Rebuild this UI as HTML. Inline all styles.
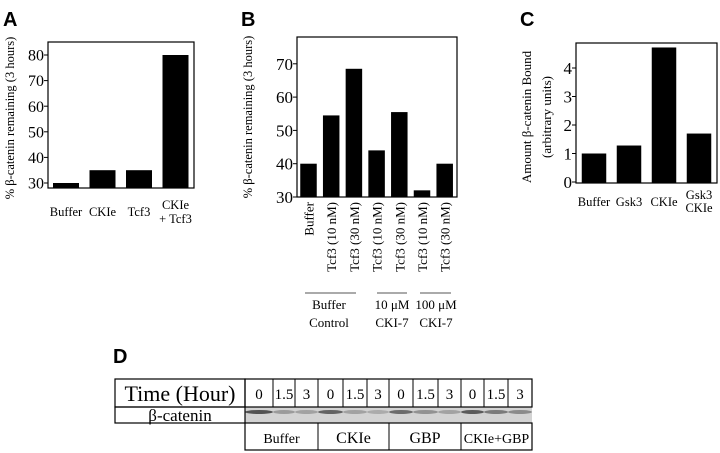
<!DOCTYPE html>
<html><head><meta charset="utf-8"><style>
body{margin:0;background:#fff}
svg{display:block}
text{font-family:"Liberation Serif",serif;fill:#000}
.lt{font-family:"Liberation Sans",sans-serif;font-weight:bold;font-size:20px}
</style></head><body>
<svg id="fig" width="720" height="453" viewBox="0 0 720 453" xmlns="http://www.w3.org/2000/svg">
<text class="lt" x="3" y="26">A</text>
<text class="lt" x="241" y="26">B</text>
<text class="lt" x="520" y="26">C</text>
<text class="lt" x="113" y="363">D</text>
<g id="gA"></g>
<g id="gB"></g>
<g id="gC"></g>
<g id="gD"></g>
</svg>
<script>
const aCategories=[["Buffer"],["CKIe"],["Tcf3"],["CKIe","+ Tcf3"]];
const aValues=[30,35,35,80];
const aTicks=[30,40,50,60,70,80];
const bCategories=["Buffer","Tcf3 (10 nM)","Tcf3 (30 nM)","Tcf3 (10 nM)","Tcf3 (30 nM)","Tcf3 (10 nM)","Tcf3 (30 nM)"];
const bValues=[40,54.5,68.5,44,55.5,32,40];
const bTicks=[30,40,50,60,70];
const cCategories=[["Buffer"],["Gsk3"],["CKIe"],["Gsk3","CKIe"]];
const cValues=[1.0,1.28,4.72,1.7];
const cTicks=[0,1,2,3,4];
const dTimes=["0","1.5","3","0","1.5","3","0","1.5","3","0","1.5","3"];
const dGroups=["Buffer","CKIe","GBP","CKIe+GBP"];

const NS="http://www.w3.org/2000/svg";
function mk(parent,tag,attrs,txt){const e=document.createElementNS(NS,tag);for(const k in attrs)e.setAttribute(k,attrs[k]);if(txt!==undefined)e.textContent=txt;parent.appendChild(e);return e;}

function frame(g,x0,x1,y0,y1,name){
  const r=mk(g,'rect',{x:x0,y:y0,width:x1-x0,height:y1-y0,fill:'none',stroke:'#000','stroke-width':1.2});
  
  
}
function yAxis(g,x0,ys,ticks,fs,name){
  ticks.forEach(t=>{
    const l=mk(g,'line',{x1:x0-4,x2:x0,y1:ys(t),y2:ys(t),stroke:'#000'});
    
    
    const tx=mk(g,'text',{x:x0-4,y:ys(t)+fs*0.35,'text-anchor':'end','font-size':fs},String(t));
    
    
  });
}
function bars(g,xs,bw,ys,base,vals,name){
  vals.forEach((v,i)=>{
    const r=mk(g,'rect',{x:xs(i)-bw/2,y:ys(v),width:bw,height:Math.max(0,base-ys(v)),fill:'#000'});
    
    
  });
}
function ytitle(g,x,y,lines,fs,gap,name){
  lines.forEach((s,i)=>{
    const t=mk(g,'text',{x:0,y:0,'text-anchor':'middle','font-size':fs,transform:`translate(${x+i*gap},${y}) rotate(-90)`},s);
    
    
  });
}

// Panel A
(function(){
  const g=document.getElementById('gA');
  const x0=48,x1=194,y0=42,y1=188;
  const ys=v=>183-(v-30)*2.56;
  const xs=i=>66+i*36.5;
  bars(g,xs,26,ys,y1,aValues,'bar-a');
  frame(g,x0,x1,y0,y1,'panel-a-plot-frame');
  yAxis(g,x0,ys,aTicks,16,'a-y-axis');
  aCategories.forEach((c,i)=>{c.forEach((s,j)=>{
    const t=mk(g,'text',{x:xs(i),y:(c.length>1?209:216)+j*14,'text-anchor':'middle','font-size':12.5},s);
    
    
  });});
  ytitle(g,14,118,["% β-catenin remaining (3 hours)"],12.5,0,'a-y-axis-title');
})();

// Panel B
(function(){
  const g=document.getElementById('gB');
  const x0=297,x1=457,y0=37,y1=197;
  const ys=v=>197-(v-30)*3.33;
  const xs=i=>308.5+i*22.7;
  bars(g,xs,16.5,ys,y1,bValues,'bar-b');
  frame(g,x0,x1,y0,y1,'panel-b-plot-frame');
  yAxis(g,x0,ys,bTicks,17,'b-y-axis');
  bCategories.forEach((s,i)=>{
    const t=mk(g,'text',{x:0,y:0,'text-anchor':'end','font-size':13,transform:`translate(${xs(i)+5},${202}) rotate(-90)`},s);
    
    
  });
  [[305,356],[377,407],[420,451]].forEach(a=>{
    const l=mk(g,'line',{x1:a[0],x2:a[1],y1:293,y2:293,stroke:'#555'});
    
    
  });
  [[329,"Buffer","Control"],[392,"10 μM","CKI-7"],[436,"100 μM","CKI-7"]].forEach(a=>{
    [a[1],a[2]].forEach((s,j)=>{
      const t=mk(g,'text',{x:a[0],y:309+j*18,'text-anchor':'middle','font-size':13},s);
      
      
    });
  });
  ytitle(g,252,117,["% β-catenin remaining (3 hours)"],12.5,0,'b-y-axis-title');
})();

// Panel C
(function(){
  const g=document.getElementById('gC');
  const x0=576,x1=717,y0=43,y1=183;
  const ys=v=>182-v*28.5;
  const xs=i=>594+i*35;
  bars(g,xs,24.5,ys,y1,cValues,'bar-c');
  frame(g,x0,x1,y0,y1,'panel-c-plot-frame');
  yAxis(g,x0,ys,cTicks,17,'c-y-axis');
  cCategories.forEach((c,i)=>{c.forEach((s,j)=>{
    const t=mk(g,'text',{x:xs(i),y:(c.length>1?199:206)+j*13,'text-anchor':'middle','font-size':12.5},s);
    
    
  });});
  ytitle(g,531,117,["Amount β-catenin Bound","(arbitrary units)"],13,20,'c-y-axis-title');
})();

// Panel D
(function(){
  const g=document.getElementById('gD');
  const L=115,X=245,R=532,T=379,M=407,B2=423,B3=450;
  const cols=[245,273,295,318,343,367,389,413,438,461,484,508,532];
  const strip=mk(g,'rect',{x:X,y:M,width:R-X,height:B2-M,fill:'#d3d3d3'});
  
  
  const inten=[0.8,0.35,0.3,0.7,0.3,0.25,0.65,0.4,0.3,0.75,0.55,0.45];
  for(let i=0;i<12;i++){
    const e=mk(g,'ellipse',{cx:(cols[i]+cols[i+1])/2,cy:M+5,rx:(cols[i+1]-cols[i])/2,ry:2,fill:'#333','fill-opacity':inten[i]});
    
    
  }
  const st={fill:'none',stroke:'#000','stroke-width':1.2};
  const boxes=[[L,T,X-L,M-T],[L,M,X-L,B2-M],[X,T,R-X,M-T],[X,B2,R-X,B3-B2]];
  boxes.forEach(b=>{const r=mk(g,'rect',Object.assign({x:b[0],y:b[1],width:b[2],height:b[3]},st));
    
    });
  for(let i=1;i<12;i++){
    const l=mk(g,'line',{x1:cols[i],x2:cols[i],y1:T,y2:M,stroke:'#000'});
    
    
  }
  for(let k=1;k<4;k++){
    const l=mk(g,'line',{x1:cols[k*3],x2:cols[k*3],y1:B2,y2:B3,stroke:'#000'});
    
    
  }
  const t1=mk(g,'text',{x:(L+X)/2,y:401,'text-anchor':'middle','font-size':22},"Time (Hour)");
  
  
  const t2=mk(g,'text',{x:(L+X)/2,y:421,'text-anchor':'middle','font-size':17},"β-catenin");
  
  
  dTimes.forEach((s,i)=>{
    const t=mk(g,'text',{x:(cols[i]+cols[i+1])/2,y:399,'text-anchor':'middle','font-size':15},s);
    
    
  });
  dGroups.forEach((s,k)=>{
    const t=mk(g,'text',{x:(cols[k*3]+cols[k*3+3])/2,y:443,'text-anchor':'middle','font-size':s.length>5?14:16},s);
    
    
  });
})();
</script>
</body></html>
